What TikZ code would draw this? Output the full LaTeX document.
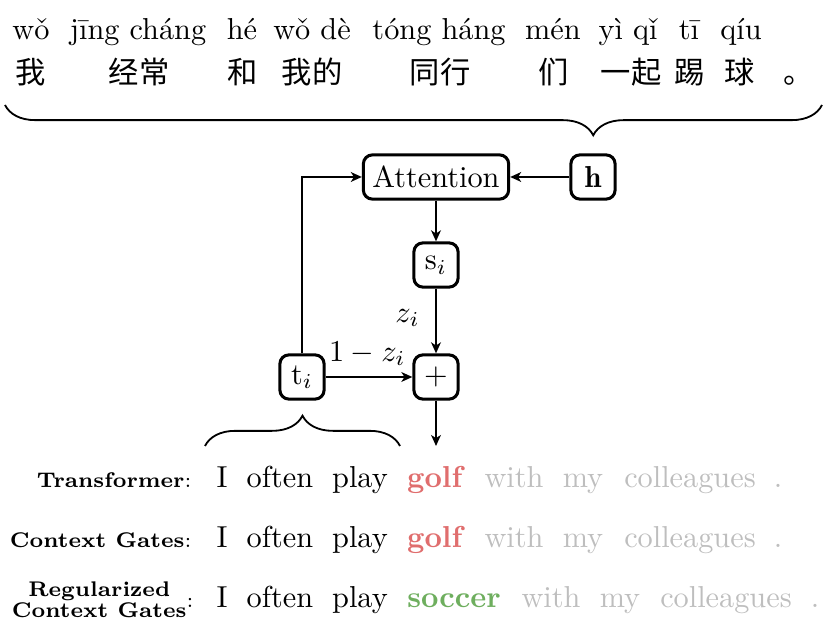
\documentclass[tikz,border=0pt]{standalone}
\usepackage{fontspec}
\newfontfamily\cjkfont{Noto Sans CJK SC}
\usetikzlibrary{decorations.pathreplacing,arrows.meta}
\definecolor{wrongred}{RGB}{224,110,110}
\definecolor{rightgreen}{RGB}{110,174,94}
\definecolor{ctxgray}{RGB}{190,190,190}
\tikzset{
	block/.style={draw, line width=1pt, rounded corners=3pt, minimum height=14.6pt, minimum width=14.6pt, inner sep=3pt},
	flow/.style={thick, -{Stealth[length=3.6pt, width=3.2pt, inset=1pt]}},
	word/.style={anchor=base, inner sep=0pt},
	hanzi/.style={anchor=base, inner sep=0pt, font=\cjkfont},
	tag/.style={anchor=base east, inner sep=0pt, font=\scriptsize, align=center},
	bracket/.style={semithick, decorate, decoration={brace, amplitude=10pt}}
}

\begin{document}
\begin{tikzpicture}[x=0.33pt,y=0.33pt,yscale=-1,xscale=1]
		\useasboundingbox (0,0) rectangle (830,631);
		\node[word] (py1) at (31,40) {wǒ};
		\node[word] (py2) at (138,40) {jīng cháng};
		\node[word] (py3) at (242,40) {hé};
		\node[word] (py4) at (312,40) {wǒ dè};
		\node[word] (py5) at (439,40) {tóng háng};
		\node[word] (py6) at (553,40) {mén};
		\node[word] (py7) at (628,40) {yì qǐ};
		\node[word] (py8) at (689,40) {tī};
		\node[word] (py9) at (741,40) {qíu};
		\node[hanzi] (hz1) at (31,84) {我};
		\node[hanzi] (hz2) at (139,84) {经常};
		\node[hanzi] (hz3) at (243,84) {和};
		\node[hanzi] (hz4) at (312,84) {我的};
		\node[hanzi] (hz5) at (440,84) {同行};
		\node[hanzi] (hz6) at (554,84) {们};
		\node[hanzi] (hz7) at (631,84) {一起};
		\node[hanzi] (hz8) at (690,84) {踢};
		\node[hanzi] (hz9) at (740,84) {球};
		\node[hanzi] (hz10) at (799,84) {。};
		\draw[bracket, decoration={mirror, aspect=0.72}] (5,105) -- (822,105);
		\node[block] (attn) at (436,177) {Attention};
		\node[block] (hvec) at (593,177) {$\mathbf{h}$};
		\node[block] (svec) at (436,265) {$\mathrm{s}_i$};
		\node[block] (plus) at (436,377) {$+$};
		\node[block] (tvec) at (302,377) {$\mathrm{t}_i$};
		\coordinate (out) at (436,446);
		\draw[flow] (hvec) -- (attn);
		\draw[flow] (attn) -- (svec);
		\draw[flow] (svec) -- node[left, pos=0.45, inner sep=5pt] {$z_i$} (plus);
		\draw[flow] (tvec) -- node[above, pos=0.48] {$1-z_i$} (plus);
		\draw[flow] (tvec.north) |- (attn.west);
		\draw[flow] (plus) -- (out);
		\draw[bracket] (205,446) -- (400,446);
		\node[tag] (lab1) at (192,488) {\textbf{Transformer}:};
		\node[word] (a1) at (222,488) {I};
		\node[word] (a2) at (280,488) {often};
		\node[word] (a3) at (360,488) {play};
		\node[word, text=wrongred] (a4) at (436,488) {\textbf{golf}};
		\node[word, text=ctxgray] (a5) at (514,488) {with};
		\node[word, text=ctxgray] (a6) at (583,488) {my};
		\node[word, text=ctxgray] (a7) at (690,488) {colleagues};
		\node[word, text=ctxgray] (a8) at (778,488) {.};
		\node[tag] (lab2) at (192,548) {\textbf{Context Gates}:};
		\node[word] (b1) at (222,548) {I};
		\node[word] (b2) at (280,548) {often};
		\node[word] (b3) at (360,548) {play};
		\node[word, text=wrongred] (b4) at (436,548) {\textbf{golf}};
		\node[word, text=ctxgray] (b5) at (514,548) {with};
		\node[word, text=ctxgray] (b6) at (583,548) {my};
		\node[word, text=ctxgray] (b7) at (690,548) {colleagues};
		\node[word, text=ctxgray] (b8) at (778,548) {.};
		\node[tag] (lab3) at (194,608) {\renewcommand{\arraystretch}{0.85}\textbf{\begin{tabular}{@{}c@{}}Regularized\\Context Gates\end{tabular}}:};
		\node[word] (c1) at (222,608) {I};
		\node[word] (c2) at (280,608) {often};
		\node[word] (c3) at (360,608) {play};
		\node[word, text=rightgreen] (c4) at (454,608) {\textbf{soccer}};
		\node[word, text=ctxgray] (c5) at (551,608) {with};
		\node[word, text=ctxgray] (c6) at (620,608) {my};
		\node[word, text=ctxgray] (c7) at (726,608) {colleagues};
		\node[word, text=ctxgray] (c8) at (815,608) {.};
		\end{tikzpicture}
\end{document}
